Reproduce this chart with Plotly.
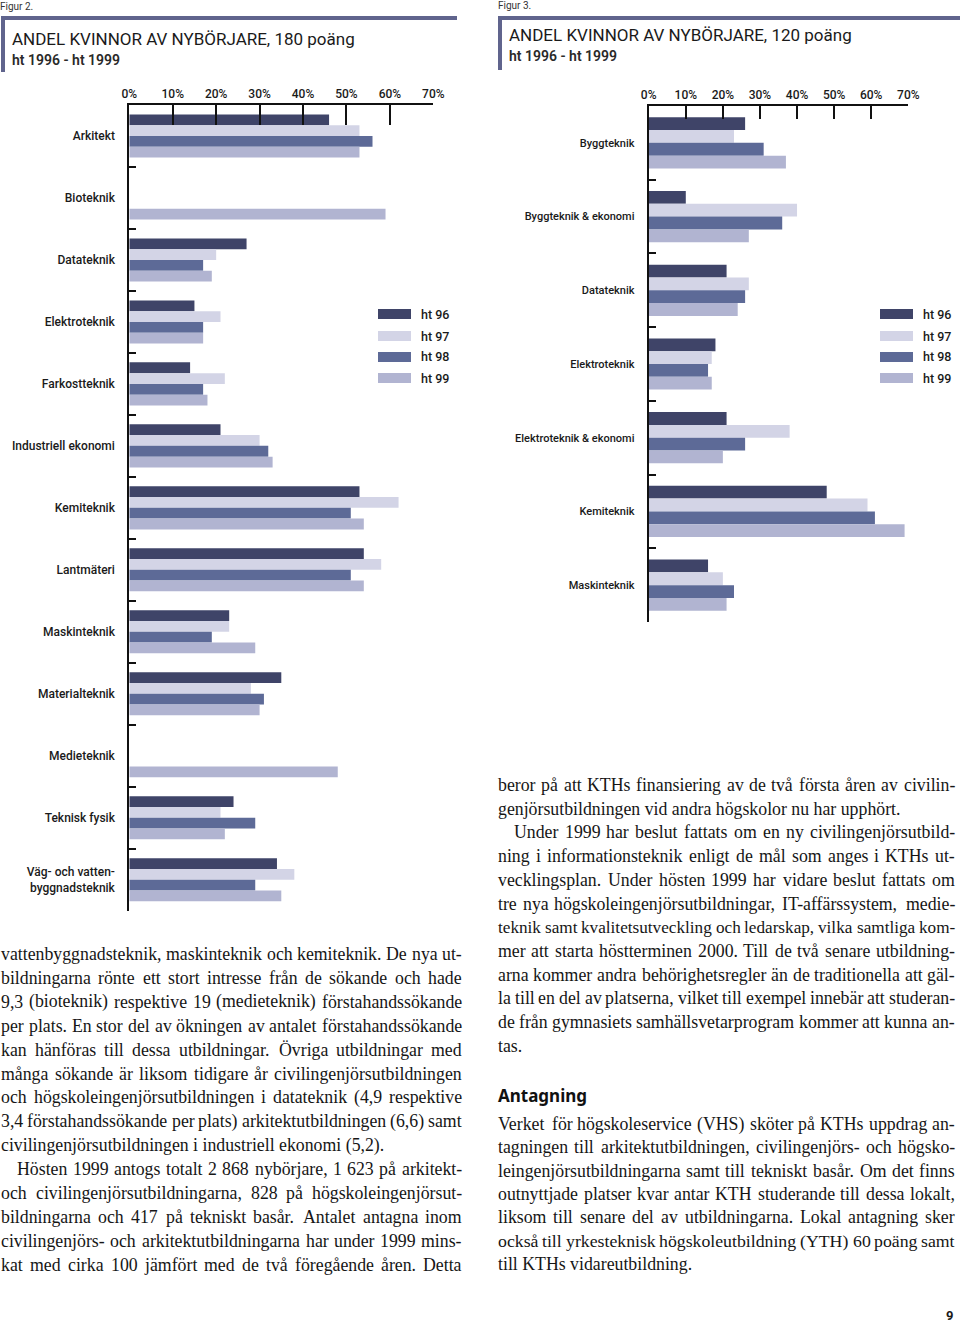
import plotly.graph_objects as go

W, H = 960, 1322

# ---------------------------------------------------------------------------
# Data
# ---------------------------------------------------------------------------
series = ["ht 96", "ht 97", "ht 98", "ht 99"]
colors = ["#3f4468", "#d3d4e6", "#5d6a97", "#b1b4d1"]

pct_ticks = [0, 10, 20, 30, 40, 50, 60, 70]
pct_labels = [f"{v}%" for v in pct_ticks]

cats_180 = ["Arkitekt", "Bioteknik", "Datateknik", "Elektroteknik",
            "Farkostteknik", "Industriell ekonomi", "Kemiteknik",
            "Lantmäteri", "Maskinteknik", "Materialteknik", "Medieteknik",
            "Teknisk fysik", "Väg- och vatten-<br>byggnadsteknik"]
ht96_180 = [46, None, 27, 15, 14, 21, 53, 54, 23, 35, None, 24, 34]
ht97_180 = [53, None, 20, 21, 22, 30, 62, 58, 23, 28, None, 21, 38]
ht98_180 = [56, None, 17, 17, 17, 32, 51, 51, 19, 31, None, 29, 29]
ht99_180 = [53, 59, 19, 17, 18, 33, 54, 54, 29, 30, 48, 22, 35]

cats_120 = ["Byggteknik", "Byggteknik & ekonomi", "Datateknik",
            "Elektroteknik", "Elektroteknik & ekonomi", "Kemiteknik",
            "Maskinteknik"]
ht96_120 = [26, 10, 21, 18, 21, 48, 16]
ht97_120 = [23, 40, 27, 17, 38, 59, 20]
ht98_120 = [31, 36, 26, 16, 26, 61, 23]
ht99_120 = [37, 27, 24, 17, 20, 69, 21]

# body text (line by line, as set in the page); True = justified line
text_left = [
    ("vattenbyggnadsteknik, maskinteknik och kemiteknik. De nya ut-", True, 0),
    ("bildningarna rönte ett stort intresse från de sökande och hade", True, 0),
    ("9,3 (bioteknik) respektive 19 (medieteknik) förstahandssökande", True, 0),
    ("per plats. En stor del av ökningen av antalet förstahandssökande", True, 0),
    ("kan hänföras till dessa utbildningar. Övriga utbildningar med", True, 0),
    ("många sökande är liksom tidigare år civilingenjörsutbildningen", True, 0),
    ("och högskoleingenjörsutbildningen i datateknik (4,9 respektive", True, 0),
    ("3,4 förstahandssökande per plats) arkitektutbildningen (6,6) samt", True, 0),
    ("civilingenjörsutbildningen i industriell ekonomi (5,2).", False, 0),
    ("Hösten 1999 antogs totalt 2 868 nybörjare, 1 623 på arkitekt-", True, 1),
    ("och civilingenjörsutbildningarna, 828 på högskoleingenjörsut-", True, 0),
    ("bildningarna och 417 på tekniskt basår. Antalet antagna inom", True, 0),
    ("civilingenjörs- och arkitektutbildningarna har under 1999 mins-", True, 0),
    ("kat med cirka 100 jämfört med de två föregående åren. Detta", True, 0),
]
text_right = [
    ("beror på att KTHs finansiering av de två första åren av civilin-", True, 0),
    ("genjörsutbildningen vid andra högskolor nu har upphört.", False, 0),
    ("Under 1999 har beslut fattats om en ny civilingenjörsutbild-", True, 1),
    ("ning i informationsteknik enligt de mål som anges i KTHs ut-", True, 0),
    ("vecklingsplan. Under hösten 1999 har vidare beslut fattats om", True, 0),
    ("tre nya högskoleingenjörsutbildningar, IT-affärssystem, medie-", True, 0),
    ("teknik samt kvalitetsutveckling och ledarskap, vilka samtliga kom-", True, 0),
    ("mer att starta höstterminen 2000. Till de två senare utbildning-", True, 0),
    ("arna kommer andra behörighetsregler än de traditionella att gäl-", True, 0),
    ("la till en del av platserna, vilket till exempel innebär att studeran-", True, 0),
    ("de från gymnasiets samhällsvetarprogram kommer att kunna an-", True, 0),
    ("tas.", False, 0),
]
text_antagning = [
    ("Verket för högskoleservice (VHS) sköter på KTHs uppdrag an-", True, 0),
    ("tagningen till arkitektutbildningen, civilingenjörs- och högsko-", True, 0),
    ("leingenjörsutbildningarna samt till tekniskt basår. Om det finns", True, 0),
    ("outnyttjade platser kvar antar KTH studerande till dessa lokalt,", True, 0),
    ("liksom till senare del av utbildningarna. Lokal antagning sker", True, 0),
    ("också till yrkesteknisk högskoleutbildning (YTH) 60 poäng samt", True, 0),
    ("till KTHs vidareutbildning.", False, 0),
]


# ---------------------------------------------------------------------------
# Helpers
# ---------------------------------------------------------------------------
def fx(px):
    return px / W


def fy(py):
    return 1 - py / H


SANS = "Roboto, 'Noto Sans', sans-serif"
SERIF = "'Liberation Serif', 'Times New Roman', serif"
BODY_SIZE = 17.8
MIN_GAP = 3.8

# Liberation Serif (Times metrics), 1/1000 em
_tw = {" ": 250, ",": 250, ".": 250, "-": 333, "(": 333, ")": 333,
       "a": 444, "b": 500, "c": 444, "d": 500, "e": 444, "f": 333, "g": 500,
       "h": 500, "i": 278, "j": 278, "k": 500, "l": 278, "m": 778, "n": 500,
       "o": 500, "p": 500, "q": 500, "r": 333, "s": 389, "t": 278, "u": 500,
       "v": 500, "w": 722, "x": 500, "y": 500, "z": 444,
       "å": 444, "ä": 444, "ö": 500,
       "A": 722, "B": 667, "C": 667, "D": 722, "E": 611, "F": 556, "G": 722,
       "H": 722, "I": 333, "J": 389, "K": 722, "L": 611, "M": 889, "N": 722,
       "O": 722, "P": 556, "R": 667, "S": 556, "T": 611, "U": 722, "V": 722,
       "W": 944, "Y": 722, "Ö": 722, "Å": 722, "Ä": 722}


def word_em(word):
    return sum(_tw.get(c, 500) for c in word) / 1000


def body(fig, x, y, s, size=BODY_SIZE):
    fig.add_annotation(
        x=fx(x), y=fy(y), xref="paper", yref="paper",
        text=s, showarrow=False, xanchor="left", yanchor="middle",
        borderpad=0, borderwidth=0,
        font=dict(family=SERIF, size=size, color="#161616"),
    )


def add_column(fig, lines, x0, x1, y0, step, indent=16):
    for i, (line, justify, ind) in enumerate(lines):
        y = y0 + i * step
        left = x0 + ind * indent
        words = line.split(" ")
        if not justify or len(words) == 1:
            body(fig, left, y, line)
            continue
        em = sum(word_em(w) for w in words)
        n_gaps = len(words) - 1
        size = min(BODY_SIZE, (x1 - left - MIN_GAP * n_gaps) / em)
        gap = (x1 - left - em * size) / n_gaps
        x = left
        for w in words:
            body(fig, x, y, w, size)
            x += word_em(w) * size + gap


def text(fig, x, y, s, size, anchor="left", weight="normal", family=SANS,
         color="#1a1a1a"):
    fig.add_annotation(
        x=fx(x), y=fy(y), xref="paper", yref="paper", text=s,
        showarrow=False, xanchor=anchor, yanchor="middle",
        borderpad=0, borderwidth=0,
        font=dict(family=family, size=size, color=color, weight=weight),
    )


def rect(x0, y0, x1, y1, color):
    return dict(type="rect", xref="paper", yref="paper",
                x0=fx(x0), x1=fx(x1), y0=fy(y1), y1=fy(y0),
                fillcolor=color, line=dict(width=0), layer="above")


# ---------------------------------------------------------------------------
# Figure
# ---------------------------------------------------------------------------
fig = go.Figure()

for name, col, vals in zip(series, colors,
                           [ht96_180, ht97_180, ht98_180, ht99_180]):
    fig.add_trace(go.Bar(
        y=cats_180, x=vals, orientation="h", name=name,
        marker=dict(color=col, line=dict(width=0)),
        xaxis="x", yaxis="y", showlegend=False,
    ))

for name, col, vals in zip(series, colors,
                           [ht96_120, ht97_120, ht98_120, ht99_120]):
    fig.add_trace(go.Bar(
        y=cats_120, x=vals, orientation="h", name=name,
        marker=dict(color=col, line=dict(width=0)),
        xaxis="x2", yaxis="y2", showlegend=False,
    ))

xcommon = dict(
    range=[0, 70], side="top", tickvals=pct_ticks, ticktext=pct_labels,
    ticks="inside", tickwidth=1.6, tickcolor="#111",
    showline=True, linecolor="#111", linewidth=2, automargin=False,
    showgrid=False, zeroline=False, fixedrange=True,
    tickfont=dict(family=SANS, size=12, color="#1a1a1a", weight=500),
)
ycommon = dict(
    type="category", tickson="boundaries", ticks="inside", ticklen=7,
    tickwidth=2, tickcolor="#111", showline=True, linecolor="#111",
    linewidth=2, showgrid=False, zeroline=False, fixedrange=True,
    automargin=False,
)

fig.update_layout(
    width=W, height=H, autosize=False,
    margin=dict(l=0, r=0, t=0, b=0, pad=0, autoexpand=False),
    paper_bgcolor="white", plot_bgcolor="rgba(0,0,0,0)",
    barmode="group", bargap=0.305, bargroupgap=0,
    xaxis=dict(domain=[fx(129.3), fx(433.3)], anchor="y", ticklen=20,
               **xcommon),
    yaxis=dict(domain=[fy(910.7), fy(105)], anchor="x",
               categoryorder="array", categoryarray=cats_180,
               range=[len(cats_180) - 0.5, -0.5], ticklabelstandoff=10,
               tickfont=dict(family=SANS, size=12, color="#1a1a1a",
                             weight=500),
               **ycommon),
    xaxis2=dict(domain=[fx(648.7), fx(908.3)], anchor="y2", ticklen=13,
                **xcommon),
    yaxis2=dict(domain=[fy(622), fy(106)], anchor="x2",
                categoryorder="array", categoryarray=cats_120,
                range=[len(cats_120) - 0.5, -0.5], ticklabelstandoff=10,
                tickfont=dict(family=SANS, size=11, color="#1a1a1a",
                              weight=500),
                **ycommon),
)

# headers
head_col = "#60648d"
shapes = [
    rect(1, 16, 457, 20, head_col), rect(1, 16, 5, 72, head_col),
    rect(498, 16, 960, 20, head_col), rect(498, 16, 502, 70, head_col),
]

# legends (drawn by hand, one per chart)
leg_y = [314, 336, 357, 378]
for (lx, tx) in [(378, 421), (880, 923)]:
    for name, col, y in zip(series, colors, leg_y):
        shapes.append(rect(lx, y - 5, lx + 33, y + 5, col))
        text(fig, tx, y, name, 12.5, weight=500)
fig.update_layout(shapes=shapes)

text(fig, 0, 6, "Figur 2.", 10, color="#333")
text(fig, 498, 5, "Figur 3.", 10, color="#333")
text(fig, 12, 39, "ANDEL KVINNOR AV NYBÖRJARE, 180 poäng", 17)
text(fig, 12, 60, "ht 1996 - ht 1999", 14, weight=600, color="#2a2a2a")
text(fig, 509, 35, "ANDEL KVINNOR AV NYBÖRJARE, 120 poäng", 17)
text(fig, 509, 56, "ht 1996 - ht 1999", 14, weight=600, color="#2a2a2a")

# body text
add_column(fig, text_left, 1, 462, 954, 23.9)
add_column(fig, text_right, 498, 955, 785, 23.7)
text(fig, 498, 1095, "Antagning", 17, weight="bold",
     family="'Noto Sans', sans-serif", color="#111")
add_column(fig, text_antagning, 498, 955, 1124, 23.35)
text(fig, 949, 1315, "9", 13, anchor="center", weight="bold")

# no page margin around the plot
no_margin = """
document.documentElement.style.margin = '0';
document.body.style.margin = '0';
document.body.style.overflow = 'hidden';
"""

fig.write_html(
    "out.html",
    config={"responsive": False, "displayModeBar": False},
    post_script=no_margin,
)
